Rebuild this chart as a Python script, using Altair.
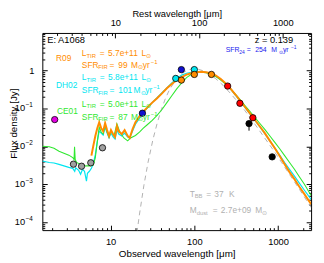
import altair as alt
import pandas as pd

Z = 0.139
X_DOMAIN = [1.53, 2480]
Y_DOMAIN = [6.2e-5, 9.8]
W, H = 274, 201

# ---------------- template SEDs (observed wavelength [um], flux density [Jy]) -------------
r09_wl = [5.90, 6.22, 6.57, 6.93, 7.31, 7.72, 8.15, 8.60, 9.08, 9.58, 10.1, 10.7, 11.3, 11.9, 12.5,
          13.6, 14.7, 16.0, 16.9, 18.3, 19.8, 22.1, 24.6, 27.4, 31.4, 35.9, 41.1, 47.0, 53.8, 61.6,
          70.5, 80.7, 92.3, 106, 121, 138, 158, 181, 207, 237, 272, 311, 356, 407, 466, 533, 610,
          698, 799, 915, 1046, 1198, 1371, 1569, 1795, 2054, 2480]
r09_f = [0.0057, 0.0104, 0.0188, 0.0303, 0.0433, 0.0303, 0.025, 0.041, 0.0269, 0.0188, 0.0269,
         0.0212, 0.0178, 0.0341, 0.025, 0.0212, 0.0269, 0.0188, 0.0167, 0.0285, 0.0433, 0.0619,
         0.083, 0.106, 0.143, 0.186, 0.25, 0.34, 0.44, 0.56, 0.67, 0.78, 0.85, 0.90, 0.93, 0.90,
         0.85, 0.74, 0.60, 0.46, 0.33, 0.23, 0.156, 0.106, 0.072, 0.049, 0.033, 0.022, 0.0140,
         0.0089, 0.0056, 0.0034, 0.0021, 0.00137, 0.00086, 0.00056, 0.00030]

dh02_wl = [1.53, 1.85, 2.11, 2.42, 2.77, 3.17, 3.53, 3.73, 3.83, 4.15, 4.38, 4.62, 4.88, 5.15, 5.29,
           5.58, 5.90, 6.22, 6.57, 6.93, 7.31, 7.72, 8.15, 8.60, 9.08, 9.58, 10.1, 10.7, 11.3, 11.9,
           12.5, 13.6, 14.7, 16.0, 16.9, 18.3, 19.8, 22.1, 24.6, 27.4, 31.4, 35.9, 41.1, 47.0, 53.8,
           61.6, 70.5, 80.7, 92.3, 106, 121, 138, 158, 181, 207, 237, 272, 311, 356, 407, 466, 533,
           610, 698, 799, 915, 1046, 1198, 1371, 1569, 1795, 2054, 2480]
dh02_f = [0.00412, 0.00377, 0.00366, 0.00335, 0.00306, 0.00280, 0.00264, 0.00221, 0.00272, 0.00234,
          0.00185, 0.00249, 0.00221, 0.00122, 0.00196, 0.00221, 0.00264, 0.00355, 0.00607, 0.0132,
          0.0254, 0.0225, 0.0200, 0.0321, 0.0225, 0.0167, 0.0225, 0.0177, 0.0157, 0.0269, 0.0212,
          0.0188, 0.0225, 0.0177, 0.0167, 0.0254, 0.0385, 0.0550, 0.0786, 0.103, 0.143, 0.192, 0.26,
          0.35, 0.47, 0.61, 0.76, 0.85, 0.90, 0.93, 0.93, 0.90, 0.83, 0.71, 0.58, 0.44, 0.32, 0.223,
          0.151, 0.103, 0.0698, 0.0474, 0.0322, 0.0212, 0.0140, 0.0092, 0.00589, 0.00377, 0.00249,
          0.00164, 0.00108, 0.00071, 0.00040]

ce01_wl = [1.53, 1.85, 2.11, 2.42, 2.77, 3.17, 3.53, 3.66, 3.71, 3.78, 3.93, 4.38, 5.01, 5.74, 6.22,
           6.57, 6.93, 7.31, 7.72, 8.15, 8.60, 9.08, 9.58, 10.1, 10.96, 11.9, 12.9, 14.4, 16.0, 17.3,
           19.8, 22.1, 24.6, 27.4, 31.4, 35.9, 41.1, 47.0, 53.8, 61.6, 70.5, 80.7, 92.3, 106, 121,
           138, 158, 181, 207, 237, 272, 311, 356, 407, 466, 533, 610, 698, 799, 915, 1046, 1198,
           1371, 1569, 1795, 2054, 2480]
ce01_f = [0.0101, 0.0098, 0.0089, 0.00748, 0.00664, 0.00589, 0.00508, 0.00451, 0.0098, 0.00451,
          0.00377, 0.00335, 0.00306, 0.00306, 0.0032, 0.00508, 0.0132, 0.0321, 0.0239, 0.0212,
          0.0362, 0.0239, 0.0177, 0.0254, 0.0188, 0.0395, 0.0239, 0.0167, 0.0140, 0.0167, 0.0194,
          0.0239, 0.0303, 0.0373, 0.0488, 0.0658, 0.094, 0.143, 0.216, 0.33, 0.47, 0.65, 0.80, 0.88,
          0.90, 0.88, 0.80, 0.69, 0.56, 0.44, 0.33, 0.237, 0.1655, 0.1158, 0.081, 0.0567, 0.0396,
          0.0277, 0.0188, 0.0128, 0.00868, 0.00572, 0.00377, 0.00249, 0.00159, 0.00102, 0.00051]

# modified black body, T = 37 K
bb_wl = [20, 22, 25, 28, 32, 36, 40, 45, 50, 60, 70, 80, 90, 100, 110, 125, 150, 180, 220, 270,
         330, 400, 500, 600, 750, 900, 1100, 1400, 1800, 2500]
bb_f = [3.1e-5, 1.5e-4, 9.5e-4, 0.0038, 0.015, 0.041, 0.088, 0.18, 0.30, 0.57, 0.82, 0.99, 1.09,
        1.11, 1.09, 1.00, 0.82, 0.61, 0.41, 0.25, 0.15, 0.089, 0.046, 0.026, 0.013, 0.0074, 0.0038,
        0.0017, 0.00074, 0.00024]

# ---------------- photometry ----------------
phot_wl = [2.15, 3.6, 4.5, 5.8, 8.0, 24, 70, 60, 100, 70, 100, 160, 250, 350, 500, 450, 850]
phot_f = [0.051, 0.0034, 0.0030, 0.0037, 0.0092, 0.075, 1.06, 0.62, 1.06, 0.56, 0.79, 0.79,
          0.39, 0.137, 0.057, 0.040, 0.0053]
phot_col = ["#e000e0", "#a0a0a0", "#a0a0a0", "#a0a0a0", "#a0a0a0", "#1010d0", "#1010d0",
            "#00e5f0", "#00e5f0", "#ff8c00", "#ff8c00", "#ff8c00", "#ff0000", "#ff0000", "#ff0000",
            "#000000", "#000000"]
err_wl = [450]
err_lo = [0.026]
err_hi = [0.040]

# axis ticks
x_major = [10, 100, 1000]
x_minor = [2, 3, 4, 5, 6, 7, 8, 9, 20, 30, 40, 50, 60, 70, 80, 90,
           200, 300, 400, 500, 600, 700, 800, 900, 2000]
rest_major = [10, 100, 1000]
rest_minor = [2, 3, 4, 5, 6, 7, 8, 9, 20, 30, 40, 50, 60, 70, 80, 90,
              200, 300, 400, 500, 600, 700, 800, 900, 2000]
y_major = [1, 0.1, 0.01, 0.001, 0.0001]
y_major_base = ["1", "10", "10", "10", "10"]
y_major_exp = ["", "\u22121", "\u22122", "\u22123", "\u22124"]
y_minor = [7e-5, 8e-5, 9e-5] + [k * 10.0 ** e for e in (-4, -3, -2, -1, 0) for k in range(2, 10)]

ORANGE = "#ff8c00"
CYAN = "#00e5f0"
GREEN = "#30e830"
BLUE = "#1a1aee"
GRAY = "#b0b0b0"
FONT = "Liberation Sans"

# annotation pieces: (text, page x, page y, font size, colour)
ann = [
    ("E: A1068", 48, 38.5, 9.5, "black"),
    ("z = 0.139", 259.5, 38.5, 9.5, "black"),
    ("SFR", 230, 48.5, 7, BLUE), ("24", 243.8, 50.8, 5, BLUE), ("=", 251.5, 48.5, 7, BLUE),
    ("254", 260, 48.5, 7, BLUE), ("M", 276.5, 48.5, 7, BLUE), ("\u2299", 283.8, 50.8, 5, BLUE),
    ("yr", 288.3, 48.5, 7, BLUE), ("\u22121", 296.5, 45.8, 5, BLUE),
    ("T", 193.3, 195, 8.5, GRAY), ("BB", 198.3, 197.7, 6, GRAY), ("=", 210, 195, 8.5, GRAY),
    ("37", 218.3, 195, 8.5, GRAY), ("K", 233.3, 195, 8.5, GRAY),
    ("M", 193.3, 211.7, 8.5, GRAY), ("dust", 200.3, 214.4, 6, GRAY), ("=", 216.7, 211.7, 8.5, GRAY),
    ("2.7e+09", 225, 211.7, 8.5, GRAY), ("M", 260, 211.7, 8.5, GRAY), ("\u2299", 267.3, 214.4, 6, GRAY),
]
templates = [("R09", 57, 57, 51.5, 63.3, "5.7e+11", "99", 0, ORANGE),
             ("DH02", 57, 84, 76, 89.5, "5.8e+11", "101", 2.5, CYAN),
             ("CE01", 58, 111, 103.3, 116.5, "5.0e+11", "87", 0, GREEN)]
for name, nx, ny, y1, y2, ltir, sfr, sh, col in templates:
    ann += [(name, nx, ny, 8.5, col),
            ("L", 83.3, y1, 8.5, col), ("TIR", 88.0, y1 + 2.7, 6, col), ("=", 101.5, y1, 8.5, col),
            (ltir, 110, y1, 8.5, col), ("L", 144, y1, 8.5, col), ("\u2299", 148.8, y1 + 2.7, 6, col),
            ("SFR", 83.3, y2, 8.5, col), ("FIR", 100, y2 + 2.7, 6, col), ("=", 111.5, y2, 8.5, col),
            (sfr, 120.5, y2, 8.5, col), ("M", 133.5 + sh, y2, 8.5, col),
            ("\u2299", 140.8 + sh, y2 + 2.7, 6, col), ("yr", 145.5 + sh, y2, 8.5, col),
            ("\u22121", 153.5 + sh, y2 - 3, 6, col)]

xs = alt.Scale(type="log", domain=X_DOMAIN, nice=False)
ys = alt.Scale(type="log", domain=Y_DOMAIN, nice=False)


def line_layer(wl, f, color, width, dash=None):
    df = pd.DataFrame({"wl": wl, "f": f, "i": list(range(len(wl)))})
    kw = dict(color=color, strokeWidth=width, clip=True)
    if dash:
        kw["strokeDash"] = dash
    return alt.Chart(df).mark_line(**kw).encode(
        x=alt.X("wl:Q", scale=xs, axis=None),
        y=alt.Y("f:Q", scale=ys, axis=None),
        order="i:Q",
    )


axdf = pd.DataFrame({"wl": [10.0], "f": [1.0]})


def axis_layer(xaxis, yaxis):
    return alt.Chart(axdf).mark_point(opacity=0).encode(
        x=alt.X("wl:Q", scale=xs, axis=xaxis),
        y=alt.Y("f:Q", scale=ys, axis=yaxis),
    )


common = dict(domain=False, grid=False, tickColor="black", tickWidth=1,
              labelFont=FONT, labelFontSize=9.5, labelColor="black",
              labelFlush=False, labelOverlap=False)
MAJ = {"expr": "-5"}
MIN = {"expr": "-2.5"}

ax_layers = [
    axis_layer(
        alt.Axis(orient="bottom", values=x_major, format="d", tickSize=MAJ, labelPadding=12,
                 title="Observed wavelength [\u03bcm]", titleFont=FONT, titleFontSize=10,
                 titleFontWeight="normal", titleY=24, titleBaseline="middle", titleColor="black",
                 **common),
        alt.Axis(orient="left", values=y_major, labels=False, tickSize=MAJ,
                 title="Flux density [Jy]", titleFont=FONT, titleFontSize=10,
                 titleFontWeight="normal", titleX=-29.5, titleY=92, titleAngle=270,
                 titleAlign="center", titleBaseline="middle", titleColor="black", **common),
    ),
    axis_layer(
        alt.Axis(orient="bottom", values=x_minor, labels=False, tickSize=MIN, title=None, **common),
        alt.Axis(orient="left", values=y_minor, labels=False, tickSize=MIN, title=None, **common),
    ),
    axis_layer(
        alt.Axis(orient="top", values=[r * (1 + Z) for r in rest_major], tickSize=MAJ,
                 labelExpr="format(datum.value/%g, 'd')" % (1 + Z), labelPadding=10.5,
                 title="Rest wavelength [\u03bcm]", titleFont=FONT, titleFontSize=9.5,
                 titleFontWeight="normal", titleY=-20, titleBaseline="middle", titleColor="black",
                 **common),
        alt.Axis(orient="right", values=y_major, labels=False, tickSize=MAJ, title=None, **common),
    ),
    axis_layer(
        alt.Axis(orient="top", values=[r * (1 + Z) for r in rest_minor], labels=False,
                 tickSize=MIN, title=None, **common),
        alt.Axis(orient="right", values=y_minor, labels=False, tickSize=MIN, title=None, **common),
    ),
]

# y tick labels (10 with superscript exponent)
ylab = pd.DataFrame({"f": y_major, "base": y_major_base, "exp": y_major_exp,
                     "bx": [-8 if b == "1" else -17.5 for b in y_major_base]})
ylab_base = alt.Chart(ylab).mark_text(align="right", baseline="middle", font=FONT,
                                      fontSize=9.5, color="black").encode(
    x=alt.X("bx:Q", scale=None, axis=None),
    y=alt.Y("f:Q", scale=ys, axis=None),
    text="base:N",
)
ylab_exp = alt.Chart(ylab).mark_text(align="left", baseline="middle", font=FONT,
                                     fontSize=6.5, color="black", dx=-17, dy=-3.5).encode(
    x=alt.value(0),
    y=alt.Y("f:Q", scale=ys, axis=None),
    text="exp:N",
)

# photometry
pdf = pd.DataFrame({"wl": phot_wl, "f": phot_f, "col": phot_col})
edf = pd.DataFrame({"wl": err_wl, "lo": err_lo, "hi": err_hi})
errbars = alt.Chart(edf).mark_rule(color="black", strokeWidth=1).encode(
    x=alt.X("wl:Q", scale=xs, axis=None),
    y=alt.Y("lo:Q", scale=ys, axis=None),
    y2="hi:Q",
)
points = alt.Chart(pdf).mark_circle(size=42, stroke="black", strokeWidth=0.8, opacity=1).encode(
    x=alt.X("wl:Q", scale=xs, axis=None),
    y=alt.Y("f:Q", scale=ys, axis=None),
    fill=alt.Fill("col:N", scale=None, legend=None),
)

# annotations
adf = pd.DataFrame(ann, columns=["txt", "pxp", "pyp", "fs", "col"])
adf["px"] = adf["pxp"] - 43
adf["py"] = adf["pyp"] - 31
texts = alt.Chart(adf).mark_text(align="left", baseline="middle", font=FONT).encode(
    x=alt.X("px:Q", scale=None, axis=None),
    y=alt.Y("py:Q", scale=None, axis=None),
    text="txt:N",
    size=alt.Size("fs:Q", scale=None, legend=None),
    color=alt.Color("col:N", scale=None, legend=None),
)

layers = ax_layers + [
    line_layer(bb_wl, bb_f, GRAY, 1, dash=[5, 4]),
    line_layer(dh02_wl, dh02_f, CYAN, 1.2),
    line_layer(ce01_wl, ce01_f, GREEN, 1.1),
    line_layer(r09_wl, r09_f, ORANGE, 2),
    errbars,
    points,
    texts,
    ylab_base,
    ylab_exp,
]

chart = alt.layer(*layers).resolve_axis(x="independent", y="independent").properties(
    width=W, height=H,
    autosize=alt.AutoSizeParams(type="none"),
    padding={"left": 35, "top": 23, "right": 5, "bottom": 28},
    background="white",
).configure_view(stroke="black", strokeWidth=1)

chart.save("out.html", embed_options={"renderer": "svg", "actions": False})
